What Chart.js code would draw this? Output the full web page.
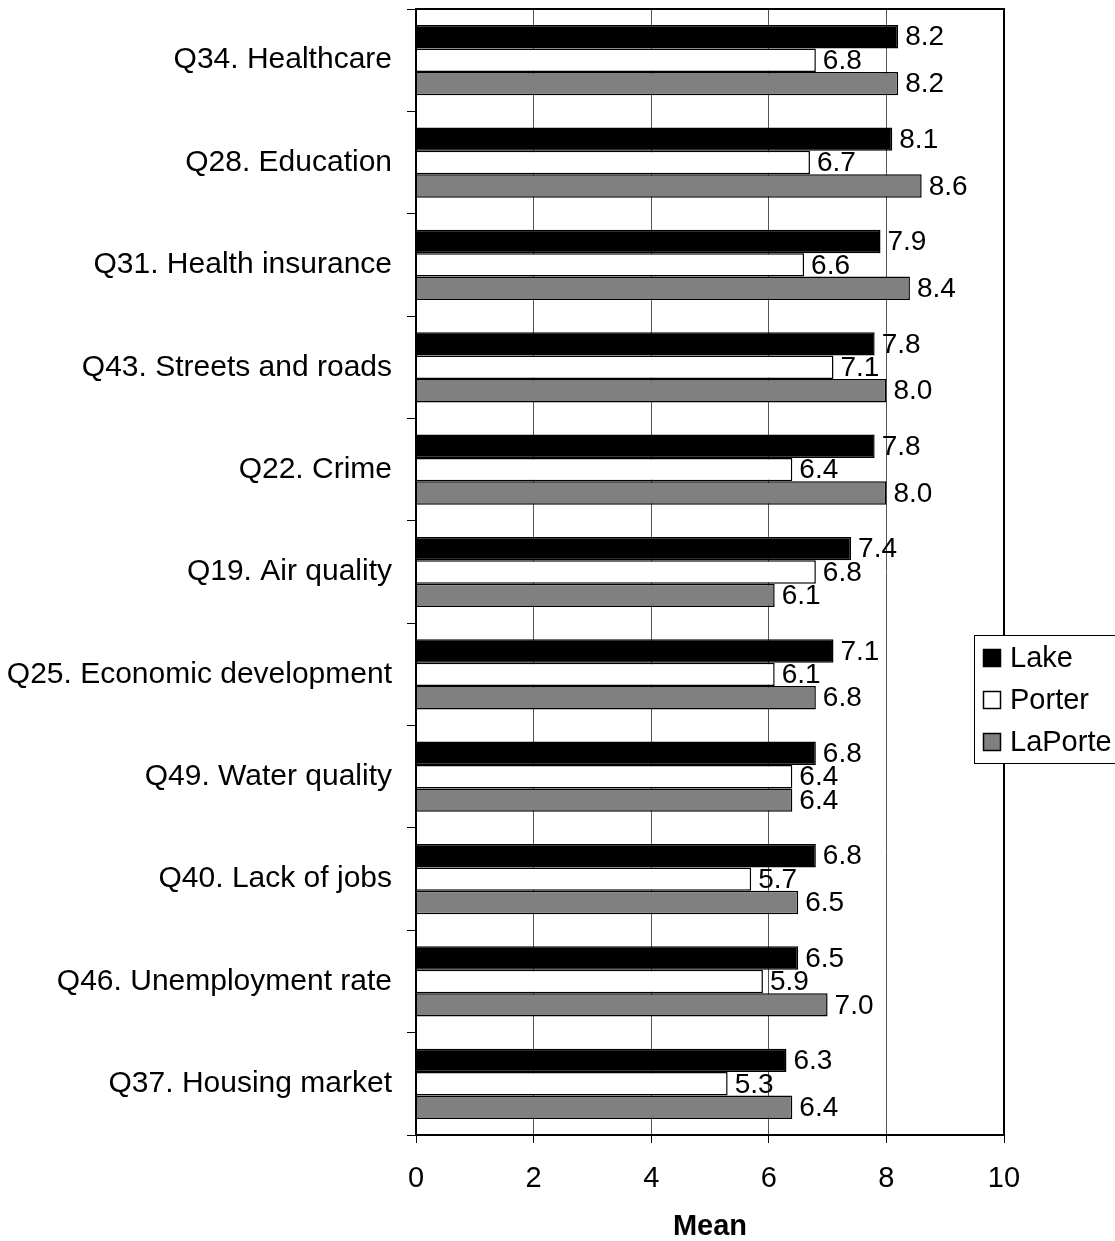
<!DOCTYPE html>
<html>
<head>
<meta charset="utf-8">
<script src="https://cdn.jsdelivr.net/npm/chart.js@4/dist/chart.umd.min.js"></script>
<style>
  html, body { margin: 0; padding: 0; background: #fff; }
  #wrap { width: 1115px; height: 1241px; }
</style>
</head>
<body>
<div id="wrap"><canvas id="c" width="1115" height="1241"></canvas></div>
<script>
const categories = [
  "Q34. Healthcare",
  "Q28. Education",
  "Q31. Health insurance",
  "Q43. Streets and roads",
  "Q22. Crime",
  "Q19. Air quality",
  "Q25. Economic development",
  "Q49. Water quality",
  "Q40. Lack of jobs",
  "Q46. Unemployment rate",
  "Q37. Housing market"
];
const lakeValues    = [8.2, 8.1, 7.9, 7.8, 7.8, 7.4, 7.1, 6.8, 6.8, 6.5, 6.3];
const porterValues  = [6.8, 6.7, 6.6, 7.1, 6.4, 6.8, 6.1, 6.4, 5.7, 5.9, 5.3];
const laporteValues = [8.2, 8.6, 8.4, 8.0, 8.0, 6.1, 6.8, 6.4, 6.5, 7.0, 6.4];
const seriesNames = ["Lake", "Porter", "LaPorte"];
const xTickValues = [0, 2, 4, 6, 8, 10];
const axisTitle = "Mean";

const FONT = "'Liberation Sans', Arial, sans-serif";

const labelPlugin = {
  id: 'valueLabels',
  afterDatasetsDraw(chart) {
    const ctx = chart.ctx;
    ctx.save();
    ctx.font = "28px " + FONT;
    ctx.fillStyle = "#000";
    ctx.textAlign = "left";
    ctx.textBaseline = "middle";
    chart.data.datasets.forEach((ds, di) => {
      const meta = chart.getDatasetMeta(di);
      meta.data.forEach((bar, i) => {
        const txt = ds.data[i].toFixed(1);
        if (di === 1) {
          ctx.save();
          ctx.beginPath();
          ctx.rect(chart.chartArea.left, bar.y - bar.height / 2, chart.chartArea.width, bar.height);
          ctx.clip();
          ctx.fillText(txt, bar.x + 7, bar.y + 1);
          ctx.restore();
        } else {
          ctx.fillText(txt, bar.x + 7, bar.y + 1);
        }
      });
    });
    ctx.restore();
  },
  afterDraw(chart) {
    const ctx = chart.ctx;
    const a = chart.chartArea;
    ctx.save();
    ctx.strokeStyle = "#000";
    ctx.lineWidth = 2;
    ctx.strokeRect(a.left, a.top, a.right - a.left, a.bottom - a.top);
    // legend
    const lx = 974, ly = 635, lw = 150, lh = 128;
    ctx.fillStyle = "#fff";
    ctx.fillRect(lx, ly, lw, lh);
    ctx.lineWidth = 1;
    ctx.strokeStyle = "#000";
    ctx.strokeRect(lx + 0.5, ly + 0.5, lw, lh);
    ctx.font = "29px " + FONT;
    ctx.textBaseline = "middle";
    ctx.textAlign = "left";
    chart.data.datasets.forEach((ds, i) => {
      const cy = 658 + i * 42;
      ctx.fillStyle = ds.backgroundColor;
      ctx.fillRect(983, cy - 9, 18, 18);
      ctx.strokeStyle = "#000";
      ctx.lineWidth = 1.5;
      ctx.strokeRect(983.5, cy - 8.5, 17, 17);
      ctx.fillStyle = "#000";
      ctx.fillText(ds.label, 1010, cy + 1);
    });
    ctx.restore();
  }
};

new Chart(document.getElementById('c'), {
  type: 'bar',
  data: {
    labels: categories,
    datasets: [
      { label: seriesNames[0], data: lakeValues, backgroundColor: "#000000", borderColor: "#000", borderWidth: 1.5 },
      { label: seriesNames[1], data: porterValues, backgroundColor: "#ffffff", borderColor: "#000", borderWidth: 1.5 },
      { label: seriesNames[2], data: laporteValues, backgroundColor: "#808080", borderColor: "#000", borderWidth: 1.5 }
    ]
  },
  options: {
    indexAxis: 'y',
    responsive: false,
    animation: false,
    devicePixelRatio: 1,
    layout: { padding: { top: 9, right: 111, left: 0, bottom: 0 } },
    datasets: { bar: { categoryPercentage: 0.686, barPercentage: 1.0 } },
    plugins: {
      legend: { display: false },
      tooltip: { enabled: false },
      title: { display: false }
    },
    scales: {
      x: {
        type: 'linear',
        min: 0, max: 10,
        afterBuildTicks: (s) => { s.ticks = xTickValues.map(v => ({ value: v })); },
        afterFit: (s) => { s.height = 106; s.paddingLeft = 0; s.paddingRight = 0; },
        grid: { color: "#555", lineWidth: 1, tickLength: 8, tickColor: "#000", drawOnChartArea: true },
        border: { display: true, color: "#000", width: 2 },
        ticks: { color: "#000", font: { family: FONT, size: 29 }, padding: 19 },
        title: { display: true, text: axisTitle, color: "#000", font: { family: FONT, size: 29, weight: 'bold', lineHeight: 1 }, padding: { top: 0, bottom: 0 } }
      },
      y: {
        type: 'category',
        afterFit: (s) => { s.width = 416; s.paddingTop = 0; s.paddingBottom = 0; },
        grid: { drawOnChartArea: false, offset: true, tickLength: 9, tickColor: "#000", color: "#000" },
        border: { display: true, color: "#000", width: 2 },
        ticks: { color: "#000", font: { family: FONT, size: 30 }, padding: 15 }
      }
    }
  },
  plugins: [labelPlugin]
});
</script>
</body>
</html>
